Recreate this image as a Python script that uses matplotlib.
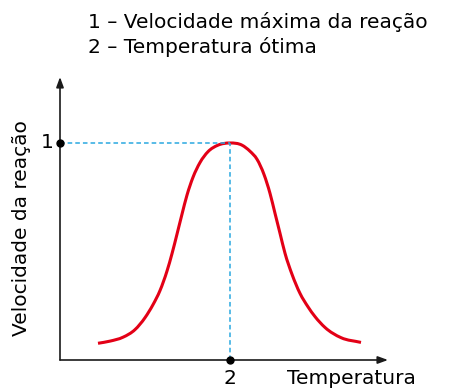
import matplotlib
matplotlib.use("Agg")
import matplotlib.pyplot as plt
from matplotlib.path import Path
from matplotlib.patches import PathPatch

# Enzyme activity curve: reaction rate (relative to maximum) vs temperature
temperatura = [38, 50, 63, 75, 85, 93, 100, 107, 112, 117, 122, 127, 133,
               140, 148, 158, 170, 182, 190, 197, 204, 210, 215, 220, 225,
               232, 240, 248, 255, 265, 281, 301]
velocidade = [0.077, 0.087, 0.105, 0.140, 0.195, 0.255, 0.320, 0.410, 0.490,
              0.580, 0.672, 0.760, 0.842, 0.910, 0.960, 0.990, 1.0, 0.990,
              0.962, 0.925, 0.855, 0.768, 0.676, 0.584, 0.492, 0.395, 0.307,
              0.245, 0.200, 0.150, 0.103, 0.081]

temp_otima = 170
vel_max = 1.0
legenda = ["1 – Velocidade máxima da reação", "2 – Temperatura ótima"]
rotulo_y = "Velocidade da reação"
rotulo_x = "Temperatura"
marca_y = "1"
marca_x = "2"


def smooth_path(xs, ys):
    """Piecewise cubic Hermite curve through the points (x increasing)."""
    n = len(xs)
    slopes = []
    for i in range(n):
        if i == 0:
            slopes.append((ys[1] - ys[0]) / (xs[1] - xs[0]))
        elif i == n - 1:
            slopes.append((ys[-1] - ys[-2]) / (xs[-1] - xs[-2]))
        else:
            h0 = xs[i] - xs[i - 1]
            h1 = xs[i + 1] - xs[i]
            d0 = (ys[i] - ys[i - 1]) / h0
            d1 = (ys[i + 1] - ys[i]) / h1
            slopes.append((h1 * d0 + h0 * d1) / (h0 + h1))
    verts = [(xs[0], ys[0])]
    codes = [Path.MOVETO]
    for i in range(n - 1):
        h = xs[i + 1] - xs[i]
        verts += [(xs[i] + h / 3, ys[i] + slopes[i] * h / 3),
                  (xs[i + 1] - h / 3, ys[i + 1] - slopes[i + 1] * h / 3),
                  (xs[i + 1], ys[i + 1])]
        codes += [Path.CURVE4] * 3
    return Path(verts, codes)


plt.rcParams["font.family"] = "DejaVu Sans"
FS = 14.5
W, H = 451, 390
fig = plt.figure(figsize=(W / 100, H / 100), dpi=100)
ax = fig.add_axes([60 / W, 30 / H, 328 / W, 283 / H])
ax.set_xlim(0, 328)
ax.set_ylim(0, 283 / 217)
ax.axis("off")

axis_col = "#1a1a1a"
# axes with arrowheads
ax.annotate("", xy=(1.0, 0), xytext=(0, 0), xycoords="axes fraction",
            arrowprops=dict(arrowstyle="-|>,head_length=0.6,head_width=0.22",
                            color=axis_col, lw=1.2, shrinkA=0, shrinkB=0))
ax.annotate("", xy=(0, 1.0), xytext=(0, 0), xycoords="axes fraction",
            arrowprops=dict(arrowstyle="-|>,head_length=0.6,head_width=0.22",
                            color=axis_col, lw=1.2, shrinkA=0, shrinkB=0))

# guide lines to the maximum
blue = "#29a8e0"
ax.plot([0, temp_otima], [vel_max, vel_max], color=blue, lw=1.1,
        dashes=(3, 2), clip_on=False)
ax.plot([temp_otima, temp_otima], [0, vel_max], color=blue, lw=1.1,
        dashes=(3, 2), clip_on=False)

ax.add_patch(PathPatch(smooth_path(temperatura, velocidade), fill=False,
                       edgecolor="#e30016", lw=2.2, capstyle="butt",
                       joinstyle="round"))

ax.plot([0, temp_otima], [vel_max, 0], "o", color="black", ms=5,
        clip_on=False, zorder=5)

ax.text(-13, vel_max, marca_y, ha="center", va="center", fontsize=FS)
ax.text(temp_otima, -19 / 217, marca_x, ha="center", va="center", fontsize=FS)
ax.text(227, -19 / 217, rotulo_x, ha="left", va="center", fontsize=FS)

fig.text(22 / W, 1 - 228 / H, rotulo_y, rotation=90, ha="center",
         va="center", fontsize=FS)
fig.text(88 / W, 1 - 22 / H, legenda[0], ha="left", va="center", fontsize=FS)
fig.text(88 / W, 1 - 47 / H, legenda[1], ha="left", va="center", fontsize=FS)

fig.savefig("out.png", dpi=100)
